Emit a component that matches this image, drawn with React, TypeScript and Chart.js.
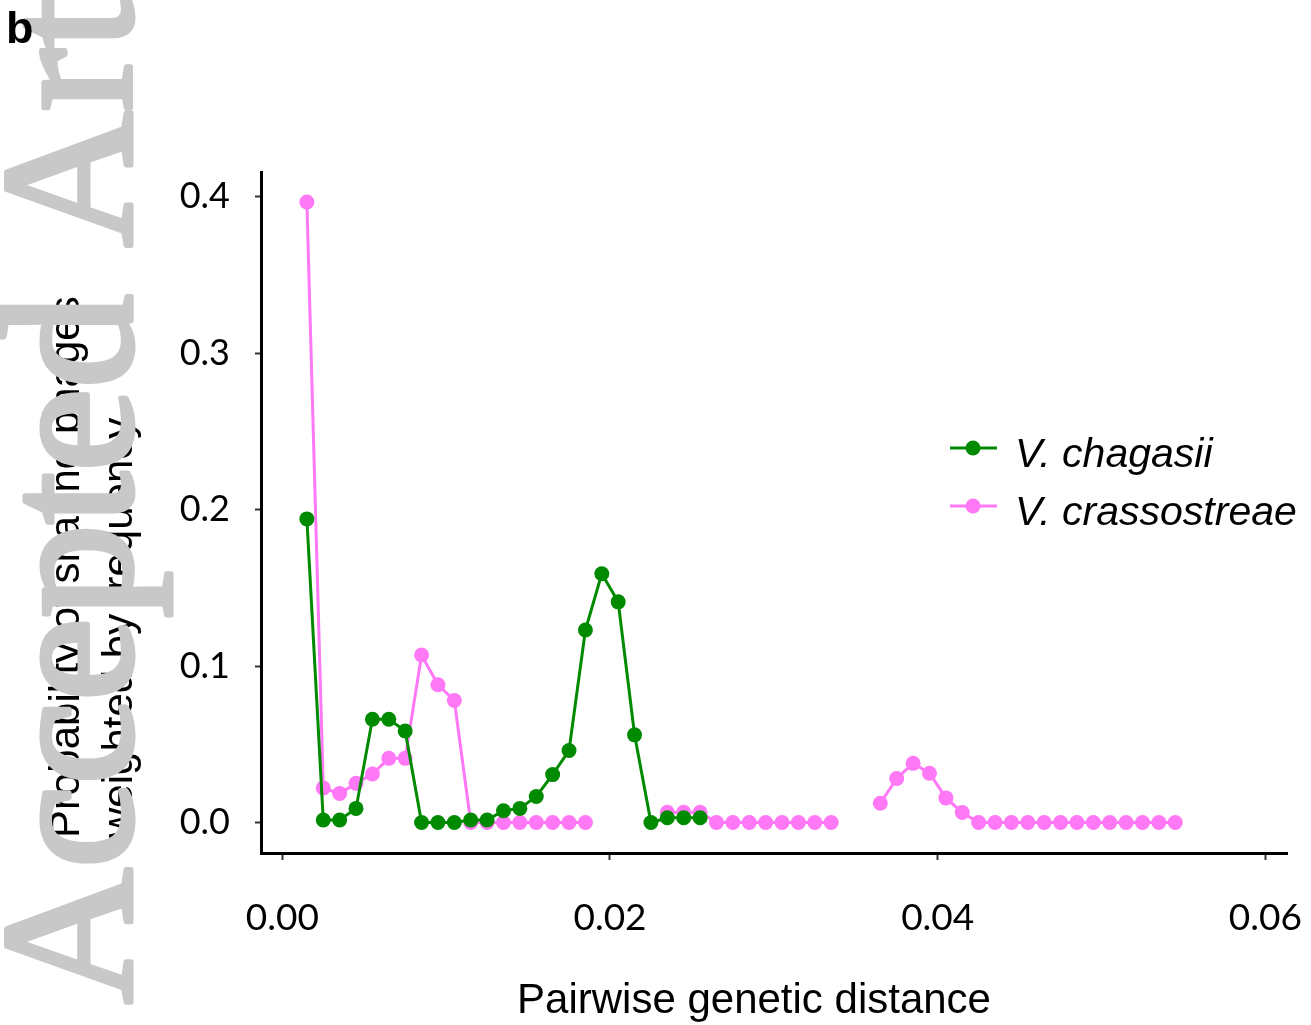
import { useEffect, useRef } from "react";
import { Chart, registerables } from "chart.js";

Chart.register(...registerables);

// Bin midpoints of pairwise genetic distance
const distanceBins = [
  0.0015, 0.0025, 0.0035, 0.0045, 0.0055, 0.0065, 0.0075, 0.0085, 0.0095, 0.0105,
  0.0115, 0.0125, 0.0135, 0.0145, 0.0155, 0.0165, 0.0175, 0.0185, 0.0195, 0.0205,
  0.0215, 0.0225, 0.0235, 0.0245, 0.0255, 0.0265, 0.0275, 0.0285, 0.0295, 0.0305,
  0.0315, 0.0325, 0.0335, 0.0345, 0.0355, 0.0365, 0.0375, 0.0385, 0.0395, 0.0405,
  0.0415, 0.0425, 0.0435, 0.0445, 0.0455, 0.0465, 0.0475, 0.0485, 0.0495, 0.0505,
  0.0515, 0.0525, 0.0535, 0.0545,
];

// Probability of sharing phages, weighted by frequency
const chagasiiValues = [
  0.194, 0.0016, 0.0016, 0.009, 0.066, 0.066, 0.0585, 0, 0, 0,
  0.0016, 0.0016, 0.0075, 0.009, 0.0166, 0.0306, 0.046, 0.123, 0.159, 0.141,
  0.056, 0, 0.003, 0.003, 0.003,
];

const crassostreaeValues = [
  0.3965, 0.022, 0.0185, 0.025, 0.031, 0.041, 0.041, 0.107, 0.088, 0.078,
  0, 0, 0, 0, 0, 0, 0, 0, null, null,
  null, null, 0.0065, 0.0065, 0.0065, 0, 0, 0, 0, 0,
  0, 0, 0, null, null, 0.0123, 0.0281, 0.0378, 0.0315, 0.0157,
  0.0064, 0, 0, 0, 0, 0, 0, 0, 0, 0,
  0, 0, 0, 0,
];

const seriesLabels = ["V. chagasii", "V. crassostreae"];
const seriesColors = ["#008A00", "#FF78F6"];

const xTickValues = [0, 0.02, 0.04, 0.06];
const yTickValues = [0, 0.1, 0.2, 0.3, 0.4];

const xAxisTitle = "Pairwise genetic distance";
const yAxisTitleLines = ["Probability of sharing phages", "weighted by frequency"];
const panelLetter = "b";
const watermarkText = "Accepted Article";

const SANS = "'Liberation Sans', Arial, Helvetica, sans-serif";
const TICK_FONT = "Lato, 'Open Sans', sans-serif";

// Titles, legend, panel letter and the vertical stamp along the left edge
const figureDecorations = {
  id: "figureDecorations",
  afterDraw(chart: Chart) {
    const ctx = chart.ctx;
    ctx.save();

    // two-line y-axis title, both lines starting from the same point
    ctx.fillStyle = "#000";
    ctx.font = `42px ${SANS}`;
    ctx.textAlign = "left";
    ctx.textBaseline = "alphabetic";
    const titleBaselines = [79, 132];
    yAxisTitleLines.forEach((line, i) => {
      ctx.save();
      ctx.translate(titleBaselines[i], 838);
      ctx.rotate(-Math.PI / 2);
      ctx.fillText(line, 0, 0);
      ctx.restore();
    });

    // x-axis title
    ctx.font = `42px ${SANS}`;
    ctx.textAlign = "center";
    ctx.fillText(xAxisTitle, 754, 1013);

    // legend: line with a dot, then italic species name
    const rowCenters = [448, 506];
    chart.data.datasets.forEach((ds: any, i: number) => {
      const y = rowCenters[i];
      ctx.strokeStyle = ds.borderColor;
      ctx.lineWidth = 3;
      ctx.beginPath();
      ctx.moveTo(950, y);
      ctx.lineTo(997, y);
      ctx.stroke();
      ctx.fillStyle = ds.backgroundColor;
      ctx.beginPath();
      ctx.arc(973, y, 7.5, 0, Math.PI * 2);
      ctx.fill();
      ctx.fillStyle = "#000";
      ctx.font = `italic 41px ${SANS}`;
      ctx.textAlign = "left";
      ctx.fillText(ds.label, 1015, y + 19);
    });

    // grey vertical stamp, drawn over the y-axis title
    ctx.save();
    ctx.translate(131, 1004);
    ctx.rotate(-Math.PI / 2);
    ctx.font = "188px 'Liberation Serif', 'Times New Roman', serif";
    ctx.fillStyle = "rgb(200,200,200)";
    ctx.strokeStyle = "rgb(200,200,200)";
    ctx.lineWidth = 5;
    ctx.lineJoin = "round";
    ctx.textAlign = "left";
    ctx.strokeText(watermarkText, 0, 0);
    ctx.fillText(watermarkText, 0, 0);
    ctx.restore();

    // panel letter
    ctx.fillStyle = "#000";
    ctx.font = `bold 45px ${SANS}`;
    ctx.textAlign = "left";
    ctx.fillText(panelLetter, 6, 43);

    ctx.restore();
  },
};

export default function App() {
  const canvasRef = useRef<HTMLCanvasElement | null>(null);

  useEffect(() => {
    const canvas = canvasRef.current;
    if (!canvas) return;

    const makeSeries = (values: (number | null)[]) =>
      values.map((v, i) => ({ x: distanceBins[i], y: v }));

    const chart = new Chart(canvas, {
      type: "line",
      data: {
        datasets: [
          {
            label: seriesLabels[0],
            data: makeSeries(chagasiiValues),
            borderColor: seriesColors[0],
            backgroundColor: seriesColors[0],
            pointBackgroundColor: seriesColors[0],
            borderWidth: 3,
            pointRadius: 7.5,
            pointBorderWidth: 0,
            tension: 0,
            spanGaps: false,
          },
          {
            label: seriesLabels[1],
            data: makeSeries(crassostreaeValues),
            borderColor: seriesColors[1],
            backgroundColor: seriesColors[1],
            pointBackgroundColor: seriesColors[1],
            borderWidth: 3,
            pointRadius: 7.5,
            pointBorderWidth: 0,
            tension: 0,
            spanGaps: false,
          },
        ],
      },
      options: {
        animation: false,
        responsive: false,
        devicePixelRatio: 1,
        layout: { padding: { left: 0, top: 172, right: 24, bottom: 0 } },
        plugins: {
          legend: { display: false },
          title: { display: false },
          tooltip: { enabled: false },
        },
        scales: {
          x: {
            type: "linear",
            min: -0.0013,
            max: 0.06132,
            afterFit: (s: any) => {
              s.height = 172;
              s.paddingLeft = 0;
              s.paddingRight = 0;
            },
            afterBuildTicks: (s: any) => {
              s.ticks = xTickValues.map((v) => ({ value: v }));
            },
            ticks: {
              callback: (v: any) => Number(v).toFixed(2),
              font: { family: TICK_FONT, size: 37 },
              color: "#000",
              padding: 36,
              autoSkip: false,
              maxRotation: 0,
            },
            grid: {
              display: true,
              drawOnChartArea: false,
              drawTicks: true,
              tickLength: 7,
              tickWidth: 2,
              tickColor: "#333",
            },
            border: { display: true, color: "#000", width: 3 },
          },
          y: {
            type: "linear",
            min: -0.0195,
            max: 0.4157,
            afterFit: (s: any) => {
              s.width = 261;
              s.paddingTop = 0;
              s.paddingBottom = 0;
            },
            afterBuildTicks: (s: any) => {
              s.ticks = yTickValues.map((v) => ({ value: v }));
            },
            ticks: {
              callback: (v: any) => Number(v).toFixed(1),
              font: { family: TICK_FONT, size: 36 },
              color: "#000",
              padding: 25,
              autoSkip: false,
            },
            grid: {
              display: true,
              drawOnChartArea: false,
              drawTicks: true,
              tickLength: 6,
              tickWidth: 2,
              tickColor: "#333",
            },
            border: { display: true, color: "#000", width: 3 },
          },
        },
      },
      plugins: [figureDecorations],
    });

    return () => chart.destroy();
  }, []);

  return (
    <canvas
      ref={canvasRef}
      width={1311}
      height={1025}
      style={{ position: "absolute", left: 0, top: 0, width: 1311, height: 1025 }}
    />
  );
}
